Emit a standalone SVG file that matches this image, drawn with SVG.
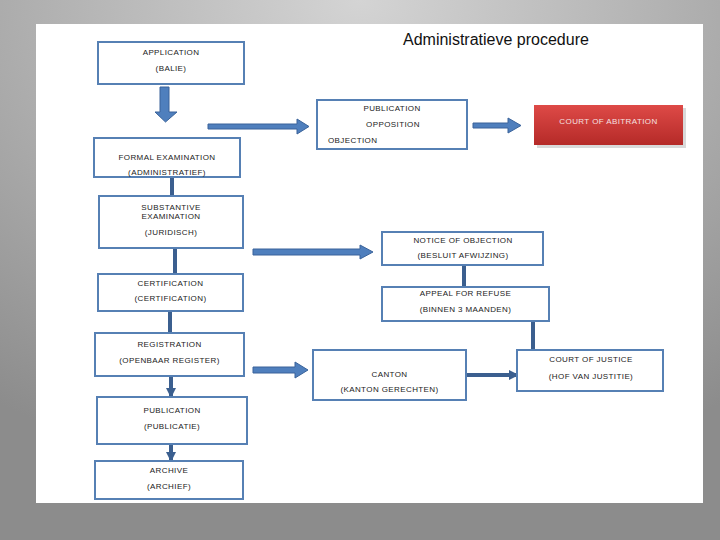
<svg xmlns="http://www.w3.org/2000/svg" width="720" height="540" viewBox="0 0 720 540">
<defs>
<radialGradient id="bg" cx="0.5" cy="0" r="0.9">
<stop offset="0" stop-color="#d4d4d4"/>
<stop offset="1" stop-color="#8c8c8c"/>
</radialGradient>
<linearGradient id="red" x1="0" y1="0" x2="0" y2="1">
<stop offset="0" stop-color="#de4a47"/>
<stop offset="1" stop-color="#b52a28"/>
</linearGradient>
<marker id="ah" viewBox="0 0 10 10" refX="9" refY="5" markerWidth="2.6" markerHeight="2.6" orient="auto" markerUnits="strokeWidth">
<path d="M0,0 L10,5 L0,10 Z" fill="#3b5f8f"/>
</marker>
<style>
.box{fill:#ffffff;stroke:#5680b4;stroke-width:2}
.t{font-family:"Liberation Sans",Arial,sans-serif;font-size:8px;fill:#222;text-anchor:middle;letter-spacing:0.4px}
.ts{text-anchor:start}
.tw{fill:#f5e0e0}
.ba{fill:#4f7fbd;stroke:#3a639a;stroke-width:1}
.ln{stroke:#3b5f8f;stroke-width:4;fill:none}
</style>
</defs>
<rect x="0" y="0" width="720" height="540" fill="url(#bg)"/>
<rect x="36" y="24" width="667" height="479" fill="#ffffff"/>
<text x="403" y="45" font-family="Liberation Sans, Arial, sans-serif" font-size="16" fill="#111">Administratieve procedure</text>

<g id="connectors">
<path class="ba" d="M160,87 H169 V112 H177 L165.5,122 L155,112 H160 Z"/>
<path class="ba" d="M208,124 H297 V119 L309,126.5 L297,134 V129 H208 Z"/>
<path class="ba" d="M473,123 H508 V118 L521,125.5 L508,133 V128 H473 Z"/>
<path class="ba" d="M253,249 H360 V245 L373,252 L360,259 V255 H253 Z"/>
<path class="ba" d="M253,367 H295 V362 L308,370 L295,378 V373 H253 Z"/>
<line class="ln" x1="172" y1="177" x2="172" y2="196"/>
<line class="ln" x1="175" y1="248" x2="175" y2="274"/>
<line class="ln" x1="170" y1="311" x2="170" y2="333"/>
<line class="ln" x1="171" y1="376" x2="171" y2="397" marker-end="url(#ah)"/>
<line class="ln" x1="171" y1="444" x2="171" y2="461" marker-end="url(#ah)"/>
<line class="ln" x1="464" y1="265" x2="464" y2="287"/>
<line class="ln" x1="533" y1="321" x2="533" y2="350"/>
<line class="ln" x1="466" y1="375" x2="518" y2="375" stroke-width="3" marker-end="url(#ah)"/>
</g>

<g id="application">
<rect class="box" x="98" y="42" width="146" height="42"/>
<text class="t" x="171" y="55">APPLICATION</text>
<text class="t" x="171" y="71">(BALIE)</text>
</g>
<g id="formal">
<rect class="box" x="94" y="138" width="146" height="39"/>
<text class="t" x="167" y="160">FORMAL EXAMINATION</text>
<text class="t" x="167" y="175">(ADMINISTRATIEF)</text>
</g>
<g id="substantive">
<rect class="box" x="99" y="196" width="144" height="52"/>
<text class="t" x="171" y="210">SUBSTANTIVE</text>
<text class="t" x="171" y="219">EXAMINATION</text>
<text class="t" x="171" y="235">(JURIDISCH)</text>
</g>
<g id="certification">
<rect class="box" x="98" y="274" width="145" height="37"/>
<text class="t" x="170.5" y="286">CERTIFICATION</text>
<text class="t" x="170.5" y="301">(CERTIFICATION)</text>
</g>
<g id="registration">
<rect class="box" x="95" y="333" width="149" height="43"/>
<text class="t" x="169.5" y="347">REGISTRATION</text>
<text class="t" x="169.5" y="363">(OPENBAAR REGISTER)</text>
</g>
<g id="publication">
<rect class="box" x="97" y="397" width="150" height="47"/>
<text class="t" x="172" y="413">PUBLICATION</text>
<text class="t" x="172" y="429">(PUBLICATIE)</text>
</g>
<g id="archive">
<rect class="box" x="95" y="461" width="148" height="38"/>
<text class="t" x="169" y="473">ARCHIVE</text>
<text class="t" x="169" y="489">(ARCHIEF)</text>
</g>
<g id="opposition">
<rect class="box" x="317" y="100" width="150" height="49"/>
<text class="t" x="392" y="111">PUBLICATION</text>
<text class="t" x="393" y="127">OPPOSITION</text>
<text class="t ts" x="328" y="143">OBJECTION</text>
</g>
<g id="arbitration">
<rect x="537" y="108" width="149" height="40" fill="#000" opacity="0.15"/>
<rect x="534" y="105" width="149" height="40" fill="url(#red)"/>
<text class="t tw" x="608.5" y="124">COURT OF ABITRATION</text>
</g>
<g id="notice">
<rect class="box" x="382" y="232" width="161" height="33"/>
<text class="t" x="463" y="243">NOTICE OF OBJECTION</text>
<text class="t" x="463" y="258">(BESLUIT AFWIJZING)</text>
</g>
<g id="appeal">
<rect class="box" x="382" y="287" width="167" height="34"/>
<text class="t" x="465.5" y="296">APPEAL FOR REFUSE</text>
<text class="t" x="465.5" y="312">(BINNEN 3 MAANDEN)</text>
</g>
<g id="canton">
<rect class="box" x="313" y="350" width="153" height="50"/>
<text class="t" x="389.5" y="377">CANTON</text>
<text class="t" x="389.5" y="392">(KANTON GERECHTEN)</text>
</g>
<g id="justice">
<rect class="box" x="517" y="350" width="146" height="41"/>
<text class="t" x="591" y="362">COURT OF JUSTICE</text>
<text class="t" x="591" y="379">(HOF VAN JUSTITIE)</text>
</g>
</svg>
